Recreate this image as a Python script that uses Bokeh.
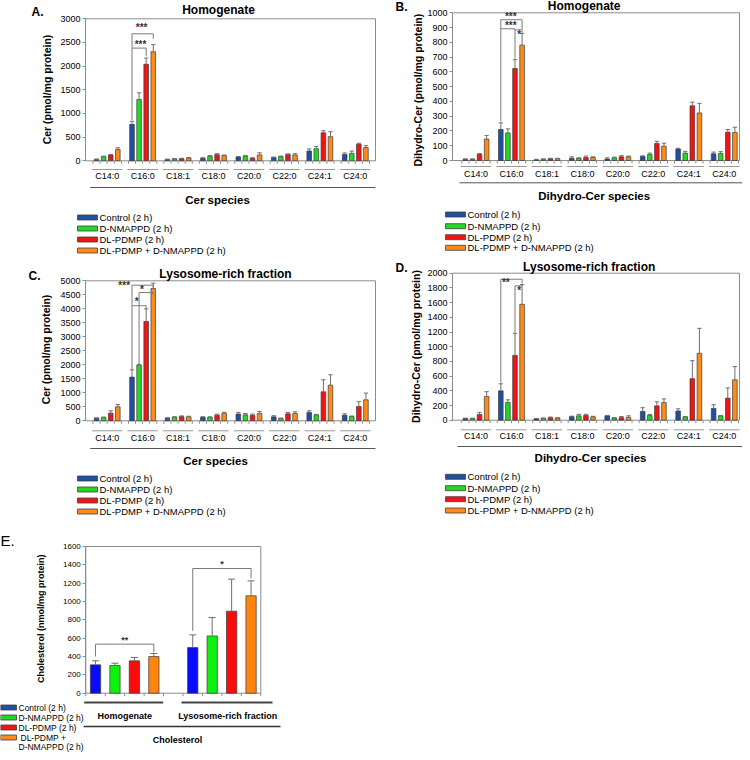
import numpy as np
from bokeh.plotting import figure
from bokeh.models import Range1d, LinearAxis, FixedTicker
from bokeh.embed import file_html
from bokeh.resources import INLINE
from bokeh.core.properties import value

W, H = 742, 752
FONT = "Liberation Sans"
AXIS_GRAY = "#8c8c8c"
ERR_GRAY = "#6e6e6e"
SIG_GRAY = "#7a7a7a"

# ---------------- data ----------------
species = ["C14:0", "C16:0", "C18:1", "C18:0", "C20:0", "C22:0", "C24:1", "C24:0"]
treatments = ["Control (2 h)", "D-NMAPPD (2 h)", "DL-PDMP (2 h)", "DL-PDMP + D-NMAPPD (2 h)"]
treatments_E = ["Control (2 h)", "D-NMAPPD (2 h)", "DL-PDMP (2 h)", "DL-PDMP +\nD-NMAPPD (2 h)"]
fractions = ["Homogenate", "Lysosome-rich fraction"]

# A: Cer, homogenate (pmol/mg protein)
cerH_control = [30, 770, 30, 55, 80, 70, 205, 135]
cerH_dnmappd = [90, 1295, 40, 95, 95, 90, 255, 155]
cerH_pdmp = [120, 2040, 45, 130, 55, 135, 590, 350]
cerH_combo = [240, 2305, 60, 110, 125, 125, 510, 280]
cerH_control_err = [8, 65, 5, 10, 10, 8, 45, 30]
cerH_dnmappd_err = [8, 140, 8, 15, 15, 10, 50, 50]
cerH_pdmp_err = [15, 130, 8, 20, 10, 10, 45, 20]
cerH_combo_err = [35, 150, 10, 12, 45, 25, 105, 40]

# B: Dihydro-Cer, homogenate
dhH_control = [8, 210, 5, 15, 10, 28, 78, 45]
dhH_dnmappd = [8, 187, 8, 15, 18, 40, 50, 48]
dhH_pdmp = [42, 623, 12, 20, 25, 115, 370, 192]
dhH_combo = [145, 781, 12, 20, 25, 97, 322, 190]
dhH_control_err = [3, 45, 3, 10, 8, 3, 5, 12]
dhH_dnmappd_err = [3, 27, 3, 3, 5, 10, 12, 12]
dhH_pdmp_err = [5, 60, 3, 10, 8, 15, 25, 18]
dhH_combo_err = [25, 80, 3, 5, 5, 20, 65, 35]

# C: Cer, lysosome-rich fraction
cerL_control = [95, 1560, 95, 130, 240, 143, 298, 200]
cerL_dnmappd = [119, 1988, 130, 130, 214, 83, 214, 155]
cerL_pdmp = [274, 3548, 155, 200, 200, 250, 1036, 512]
cerL_combo = [500, 4726, 143, 274, 262, 262, 1274, 750]
cerL_control_err = [10, 260, 15, 15, 60, 40, 60, 50]
cerL_dnmappd_err = [15, 25, 15, 10, 50, 15, 15, 15]
cerL_pdmp_err = [83, 450, 20, 35, 40, 50, 430, 170]
cerL_combo_err = [80, 190, 20, 30, 70, 60, 370, 240]

# D: Dihydro-Cer, lysosome-rich fraction
dhL_control = [23, 400, 20, 50, 60, 120, 125, 160]
dhL_dnmappd = [23, 241, 25, 60, 30, 65, 45, 60]
dhL_pdmp = [77, 882, 35, 65, 35, 195, 565, 300]
dhL_combo = [323, 1577, 30, 45, 40, 240, 910, 550]
dhL_control_err = [5, 95, 3, 5, 5, 50, 30, 50]
dhL_dnmappd_err = [5, 36, 5, 20, 5, 15, 5, 5]
dhL_pdmp_err = [30, 300, 8, 15, 15, 55, 245, 140]
dhL_combo_err = [65, 268, 5, 8, 20, 50, 340, 180]

# E: Cholesterol (nmol/mg protein), [homogenate, lysosome-rich fraction]
chol_control = [309, 498]
chol_dnmappd = [302, 625]
chol_pdmp = [353, 895]
chol_combo = [400, 1062]
chol_control_err = [44, 138]
chol_dnmappd_err = [25, 200]
chol_pdmp_err = [36, 349]
chol_combo_err = [33, 163]

# significance brackets: (group, left treatment, right treatment, level, left end, right end, label, label x, label y)
sig_A = [(1, 0, 3, 2683, 860, 2578, "***", 0.97, 2810),
         (1, 0, 2, 2381, None, 2204, "***", 0.94, 2466)]
sig_B = [(1, 0, 3, 953, 265, 889, "***", 0.98, 975),
         (1, 0, 2, 892, None, 690, "***", 0.98, 914),
         (1, 2, 3, 885, None, 865, "*", 1.22, 850)]
sig_C = [(1, 0, 3, 4843, 1850, 4750, "***", 0.48, 4821),
         (1, 1, 3, 4580, 2030, 4510, "*", 0.98, 4700),
         (1, 0, 2, 4110, None, 4000, "*", 0.83, 4250)]
sig_D = [(1, 0, 3, 1918, 510, 1860, "**", 0.84, 1873),
         (1, 2, 3, 1828, 1190, None, "*", 1.22, 1760)]
# E: (fraction, left treatment, right treatment, level, left end, right end, label, label x, label y)
sig_E = [(0, 0, 3, 535, 400, 444, "**", 1.5, 585),
         (1, 0, 3, 1360, 680, 1251, "*", 6.5, 1405)]

# ---------------- styles / layout ----------------
bar_colors = ["#1f4fa3", "#22d822", "#f21414", "#ff8a18"]
bar_colors_E = ["#0a0aff", "#10f010", "#ff0a0a", "#ff8410"]
OFFS = [-0.3, -0.1, 0.1, 0.3]

GEOM = {
    "A": dict(L=85, R=375, T=18.3, B=160.3, x0=-0.612, x1=7.57, ymax=3000, step=500),
    "B": dict(L=452, R=739, T=12.3, B=160.0, x0=-0.6625, x1=7.43, ymax=1000, step=100),
    "C": dict(L=85, R=375, T=280.3, B=420.3, x0=-0.612, x1=7.57, ymax=5000, step=500),
    "D": dict(L=452, R=739, T=272.7, B=419.7, x0=-0.6625, x1=7.43, ymax=2000, step=200),
    "E": dict(L=85.3, R=260.3, T=546.0, B=692.7, x0=-0.5, x1=8.5, ymax=1600, step=200),
}

xr, yr = {}, {}
for k, g in GEOM.items():
    kx = (g["x1"] - g["x0"]) / (g["R"] - g["L"])
    ky = g["ymax"] / (g["B"] - g["T"])
    xr[k] = Range1d(g["x0"] - g["L"] * kx, g["x1"] + (W - g["R"]) * kx)
    yr[k] = Range1d(-(H - g["B"]) * ky, g["ymax"] + g["T"] * ky)

p = figure(width=W, height=H, x_range=Range1d(0, W), y_range=Range1d(H, 0),
           extra_x_ranges=xr, extra_y_ranges=yr,
           output_backend="svg", toolbar_location=None,
           x_axis_location=None, y_axis_location=None, min_border=0)
p.outline_line_color = None
p.grid.visible = False
p.background_fill_color = "white"
p.border_fill_color = "white"


def txt(x, y, s, size, bold=False, align="center", baseline="middle", angle=0.0,
        xrn="default", yrn="default", color="#000000"):
    p.text(x=[x], y=[y], text=[s], x_range_name=xrn, y_range_name=yrn,
           text_font=value(FONT), text_font_size=value(size),
           text_font_style="bold" if bold else "normal",
           text_align=align, text_baseline=baseline, angle=angle, text_color=color)


def add_yaxis(k, size):
    g = GEOM[k]
    ticks = list(range(0, g["ymax"] + 1, g["step"]))
    ax = LinearAxis(x_range_name="default", y_range_name=k, fixed_location=g["L"],
                    bounds=(0, g["ymax"]), ticker=FixedTicker(ticks=ticks),
                    axis_line_color=AXIS_GRAY, major_tick_line_color=AXIS_GRAY,
                    major_tick_out=3, major_tick_in=0, minor_tick_line_color=None,
                    major_label_text_font=FONT, major_label_text_font_size=size,
                    major_label_standoff=2, major_label_text_color="#000000")
    p.add_layout(ax, "left")


def frame_box(k):
    g = GEOM[k]
    p.quad(left=[g["x0"]], right=[g["x1"]], bottom=[0], top=[g["ymax"]],
           fill_color=None, line_color=AXIS_GRAY, line_width=1,
           x_range_name=k, y_range_name=k)


def bars(k, xs, vals, errs, color, width, cap):
    tops = [v + e for v, e in zip(vals, errs)]
    p.vbar(x=xs, width=width, bottom=0, top=vals, fill_color=color,
           line_color="#3a3a3a", line_width=0.7, x_range_name=k, y_range_name=k)
    p.segment(x0=xs, y0=vals, x1=xs, y1=tops, line_color=ERR_GRAY, line_width=1,
              x_range_name=k, y_range_name=k)
    p.segment(x0=[x - cap for x in xs], y0=tops, x1=[x + cap for x in xs], y1=tops,
              line_color=ERR_GRAY, line_width=1, x_range_name=k, y_range_name=k)


def draw_sig(k, sig, xpos, size):
    for (gi, l, r, lvl, le, re, lab, lx, ly) in sig:
        xl, xrr = xpos(gi, l), xpos(gi, r)
        xs, ys = [], []
        if le is not None:
            xs.append(xl); ys.append(le)
        xs += [xl, xrr]; ys += [lvl, lvl]
        if re is not None:
            xs.append(xrr); ys.append(re)
        p.line(xs, ys, line_color=SIG_GRAY, line_width=1, x_range_name=k, y_range_name=k)
        txt(lx, ly, lab, size, bold=True, xrn=k, yrn=k, color="#333333")


def species_panel(k, series, errors, sig, title, letter, ylabel, xtitle, lay):
    g = GEOM[k]
    frame_box(k)
    for t in range(4):
        xs = [i + OFFS[t] for i in range(len(species))]
        bars(k, xs, series[t], errors[t], bar_colors[t], 0.13, 0.06)
    add_yaxis(k, "9px")
    draw_sig(k, sig, lambda gi, t: gi + OFFS[t], "10px")
    # x ticks
    tx = [i + o for i in range(len(species)) for o in (-0.4, -0.2, 0.0, 0.2, 0.4)]
    p.segment(x0=tx, x1=tx, y0=[g["B"]] * len(tx), y1=[g["B"] + 3] * len(tx),
              line_color=AXIS_GRAY, x_range_name=k, y_range_name="default")
    # category underlines and labels
    n = len(species)
    p.segment(x0=[i - 0.43 for i in range(n)], x1=[i + 0.43 for i in range(n)],
              y0=[lay["under_y"]] * n, y1=[lay["under_y"]] * n,
              line_color="#9a9a9a", line_width=1, x_range_name=k, y_range_name="default")
    p.text(x=list(range(n)), y=[lay["lab_y"]] * n, text=species,
           x_range_name=k, y_range_name="default", text_font=value(FONT),
           text_font_size=value("9px"), text_align="center", text_baseline="middle",
           text_color="#000000")
    lx0, lx1, ly = lay["long"]
    p.segment(x0=[lx0], x1=[lx1], y0=[ly], y1=[ly], line_color="#555555", line_width=1)
    txt(lay["xtitle"][0], lay["xtitle"][1], xtitle, "11.5px", bold=True)
    # title, letter, y label
    txt(lay["title"][0], lay["title"][1], title, "12px", bold=True)
    txt(lay["letter"][0], lay["letter"][1], letter, "12px", bold=True, align="left")
    txt(lay["ylabel"][0], lay["ylabel"][1], ylabel, "10.5px", bold=True, angle=np.pi / 2)
    # legend
    sw0, sw1 = lay["sw"]
    for t in range(4):
        yy = lay["rows"][t]
        p.quad(left=[sw0], right=[sw1], top=[yy - 2.5], bottom=[yy + 2.5],
               fill_color=bar_colors[t], line_color="#404040", line_width=0.8)
        txt(lay["tx"], yy, treatments[t], "9.5px", align="left")


lay_A = dict(title=(218, 9), letter=(31, 11), ylabel=(46, 89), under_y=169, lab_y=175.7,
             long=(89.7, 375, 187), xtitle=(217, 199), rows=[217, 228, 239, 250], sw=(77, 97), tx=99)
lay_B = dict(title=(583.7, 5.5), letter=(395, 6), ylabel=(417, 89.7), under_y=166, lab_y=173,
             long=(459, 742, 182.3), xtitle=(593.7, 195.7), rows=[214, 225.7, 236.7, 247.3],
             sw=(445, 465), tx=467)
lay_C = dict(title=(225, 273.7), letter=(28, 275), ylabel=(45.7, 349), under_y=430.3, lab_y=437,
             long=(89.7, 375, 448), xtitle=(215, 460.3), rows=[478, 489, 500, 511], sw=(77, 97), tx=99)
lay_D = dict(title=(588.7, 266), letter=(395, 267), ylabel=(415.7, 346), under_y=429.3, lab_y=435.3,
             long=(457, 742, 446), xtitle=(590, 457), rows=[476.3, 487.7, 498.7, 510],
             sw=(445, 465), tx=467)

species_panel("A", [cerH_control, cerH_dnmappd, cerH_pdmp, cerH_combo],
              [cerH_control_err, cerH_dnmappd_err, cerH_pdmp_err, cerH_combo_err],
              sig_A, "Homogenate", "A.", "Cer (pmol/mg protein)", "Cer species", lay_A)
species_panel("B", [dhH_control, dhH_dnmappd, dhH_pdmp, dhH_combo],
              [dhH_control_err, dhH_dnmappd_err, dhH_pdmp_err, dhH_combo_err],
              sig_B, "Homogenate", "B.", "Dihydro-Cer (pmol/mg protein)", "Dihydro-Cer species", lay_B)
species_panel("C", [cerL_control, cerL_dnmappd, cerL_pdmp, cerL_combo],
              [cerL_control_err, cerL_dnmappd_err, cerL_pdmp_err, cerL_combo_err],
              sig_C, "Lysosome-rich fraction", "C.", "Cer (pmol/mg protein)", "Cer species", lay_C)
species_panel("D", [dhL_control, dhL_dnmappd, dhL_pdmp, dhL_combo],
              [dhL_control_err, dhL_dnmappd_err, dhL_pdmp_err, dhL_combo_err],
              sig_D, "Lysosome-rich fraction", "D.", "Dihydro-Cer (pmol/mg protein)", "Dihydro-Cer species", lay_D)

# ---------------- panel E ----------------
gE = GEOM["E"]
frame_box("E")
E_series = [chol_control, chol_dnmappd, chol_pdmp, chol_combo]
E_errs = [chol_control_err, chol_dnmappd_err, chol_pdmp_err, chol_combo_err]
for t in range(4):
    xs = [fi * 5 + t for fi in range(len(fractions))]
    bars("E", xs, E_series[t], E_errs[t], bar_colors_E[t], 0.53, 0.18)
add_yaxis("E", "8px")
draw_sig("E", sig_E, lambda fi, t: fi * 5 + t, "9px")
txE = [i - 0.5 for i in range(10)]
p.segment(x0=txE, x1=txE, y0=[gE["B"]] * len(txE), y1=[gE["B"] + 3] * len(txE),
          line_color=AXIS_GRAY, x_range_name="E", y_range_name="default")
# group underlines (px) and labels
p.segment(x0=[83.7, 181], x1=[162.7, 272], y0=[702, 702], y1=[702, 702],
          line_color="#444444", line_width=2)
p.text(x=[1.5, 6.8], y=[715.3, 715.3], text=fractions, x_range_name="E", y_range_name="default",
       text_font=value(FONT), text_font_size=value("9px"), text_font_style="bold",
       text_align="center", text_baseline="middle", text_color="#000000")
p.segment(x0=[83], x1=[280], y0=[726], y1=[726], line_color="#333333", line_width=1.5)
txt(177, 739.3, "Cholesterol", "9px", bold=True)
txt(0, 540, "E.", "15px", align="left")
txt(40, 618.3, "Cholesterol (nmol/mg protein)", "9px", bold=True, angle=np.pi / 2)
rows_E = [707, 717, 727, 737]
for t in range(4):
    yy = rows_E[t]
    p.quad(left=[0], right=[16], top=[yy - 2.5], bottom=[yy + 2.5],
           fill_color=bar_colors[t], line_color="#404040", line_width=0.8)
    for j, line in enumerate(treatments_E[t].split("\n")):
        txt(18 + (2 if j == 0 and "\n" in treatments_E[t] else 0), yy + 9.5 * j, line,
            "8.5px", align="left")

open("out.html", "w").write(file_html(p, INLINE))
